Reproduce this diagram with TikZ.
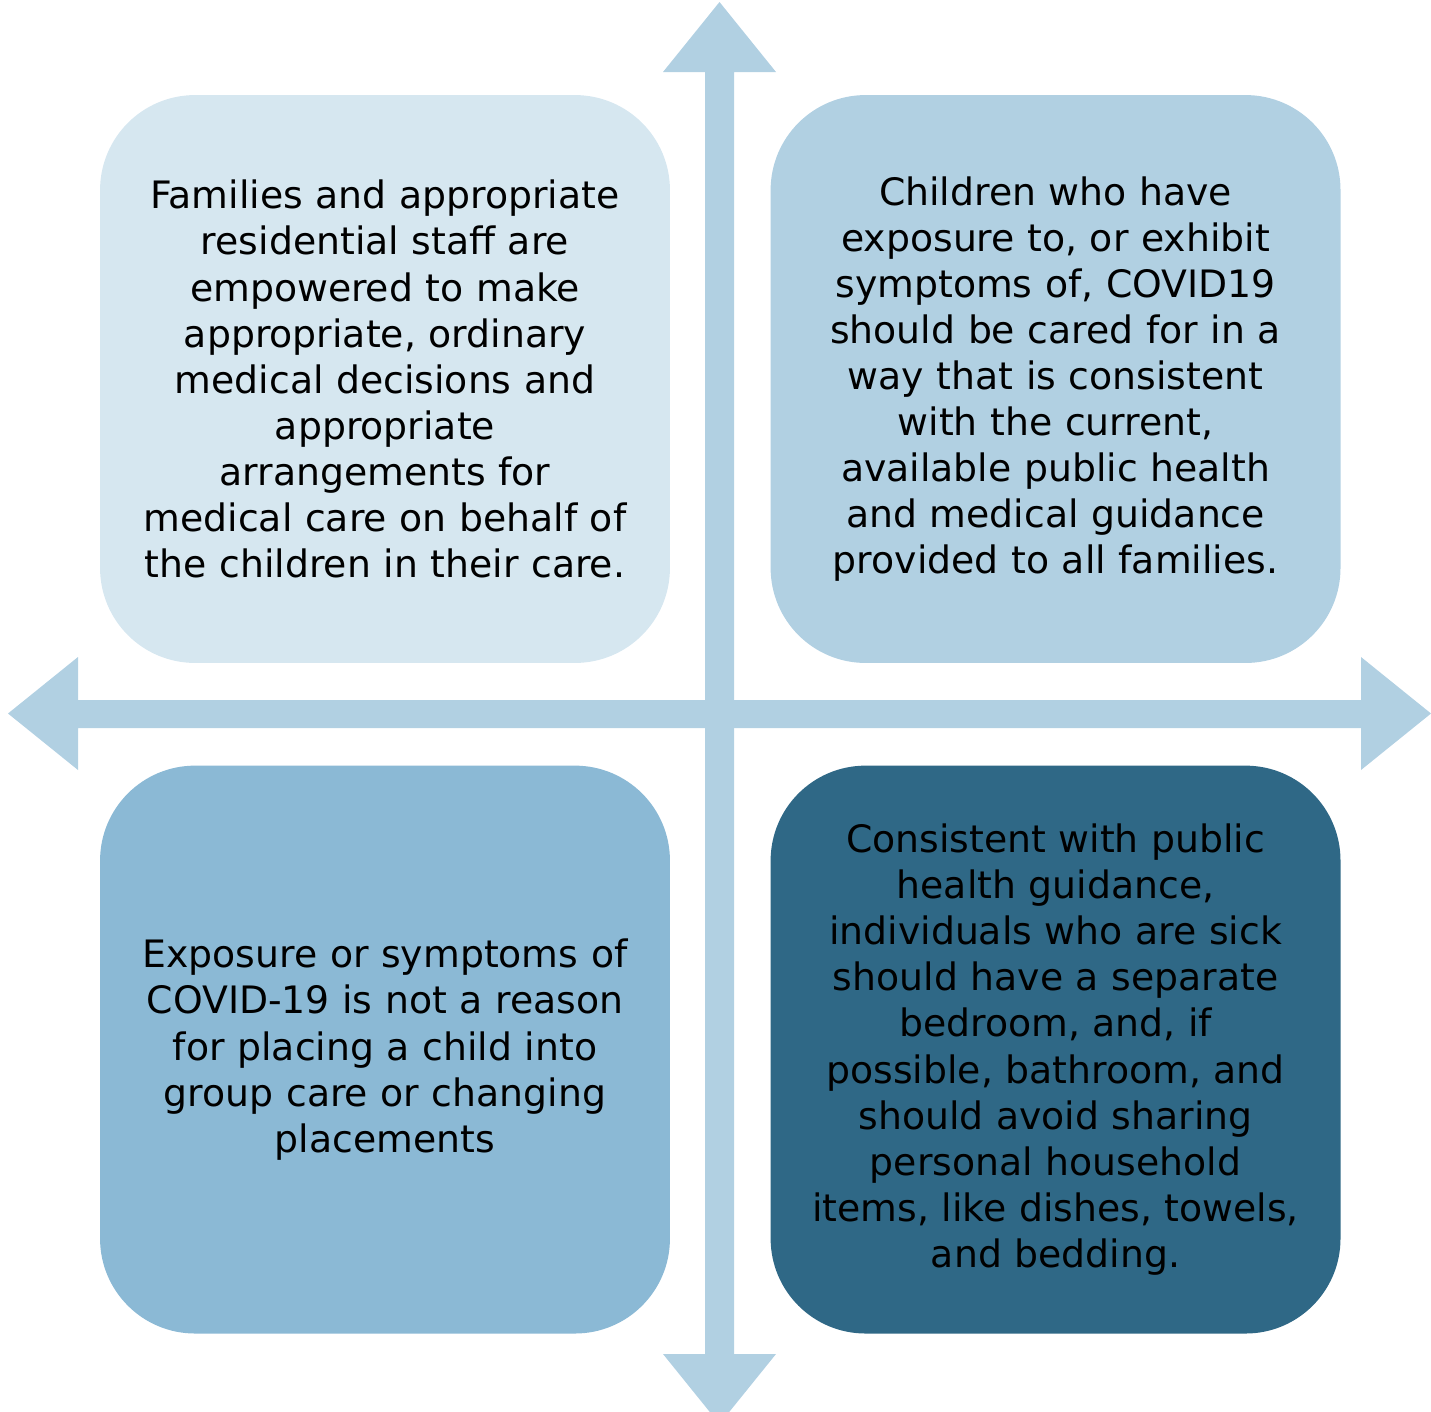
\documentclass[tikz,border=0pt]{standalone}
\usepackage{fontspec}
\setmainfont{DejaVu Sans}
\usetikzlibrary{positioning}

\definecolor{axisblue}{HTML}{B1D0E2}
\definecolor{paleblue}{HTML}{D6E7F0}
\definecolor{midblue}{HTML}{8BB9D5}
\definecolor{deepblue}{HTML}{2F6886}

\begin{document}
\begin{tikzpicture}[
            x=0.02cm, y=-0.02cm,
            quad/.style={rounded corners=1.9cm, minimum width=11.4cm, minimum height=11.36cm,
                inner sep=0pt, align=center, text width=11.2cm,
                font=\fontsize{21.5}{26.2}\selectfont}
        ]

            \useasboundingbox (0,0) rectangle (1431,1411);
            \clip (0,0) rectangle (1431,1411);

            % the two axes
            \fill[axisblue] (705,72) -- (663,72) -- (719.5,2) -- (776,72) -- (734,72)
                -- (734,1354) -- (776,1354) -- (719.5,1424) -- (663,1354) -- (705,1354) -- cycle;
            \fill[axisblue] (78,700) -- (78,657) -- (8,713.5) -- (78,770) -- (78,728)
                -- (1361,728) -- (1361,770) -- (1431,713.5) -- (1361,657) -- (1361,700) -- cycle;

            % quadrants
            \node[quad, fill=paleblue] (families) at (385,379) {Families and appropriate\\
                residential staff are\\ empowered to make\\ appropriate, ordinary\\
                medical decisions and\\ appropriate\\ arrangements for\\
                medical care on behalf of\\ the children in their care.};
            \node[quad, fill=axisblue, right=2cm of families] (exposure) {Children who have\\
                exposure to, or exhibit\\ symptoms of, COVID19\\ should be cared for in a\\
                way that is consistent\\ with the current,\\ available public health\\
                and medical guidance\\ provided to all families.};
            \node[quad, fill=midblue, below=2.04cm of families] (placing) {Exposure or symptoms of\\
                COVID-19 is not a reason\\ for placing a child into\\ group care or changing\\
                placements};
            \node[quad, fill=deepblue, below=2.04cm of exposure] (separate) {Consistent with public\\
                health guidance,\\ individuals who are sick\\ should have a separate\\
                bedroom, and, if\\ possible, bathroom, and\\ should avoid sharing\\
                personal household\\ items, like dishes, towels,\\ and bedding.};
        \end{tikzpicture}
\end{document}
